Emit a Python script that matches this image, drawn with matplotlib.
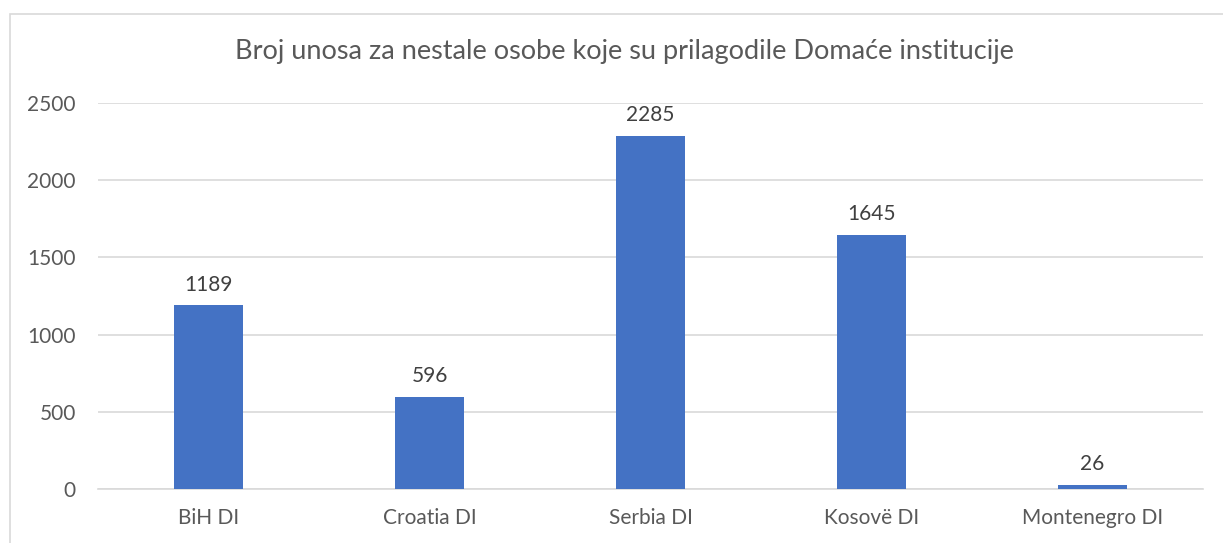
import matplotlib.pyplot as plt
from matplotlib.patches import Rectangle

# data
categories = ["BiH DI", "Croatia DI", "Serbia DI", "Kosovë DI", "Montenegro DI"]
values = [1189, 596, 2285, 1645, 26]
yticks = [0, 500, 1000, 1500, 2000, 2500]
title = "Broj unosa za nestale osobe koje su prilagodile Domaće institucije"

plt.rcParams['font.family'] = ['Lato', 'DejaVu Sans']

fig = plt.figure(figsize=(12.23, 5.43), dpi=100)
ax = fig.add_axes([98 / 1223, 1 - 489 / 543, (1203 - 98) / 1223, (489 - 103) / 543])

# chart border (left and top visible)
fig.patches.append(Rectangle((10 / 1223, -0.1), 1.2, 1 - 14 / 543 + 0.1,
                             transform=fig.transFigure, fill=False,
                             edgecolor="#d9d9d9", linewidth=1.2))

x = range(len(categories))
bars = ax.bar(x, values, width=0.31, color="#4472C4", zorder=3)

for xi, v in zip(x, values):
    ax.text(xi, v + 70, str(v), ha="center", va="bottom",
            fontsize=15, color="#404040")

ax.set_xlim(-0.5, len(categories) - 0.5)
ax.set_ylim(0, 2500)
ax.set_yticks(yticks)
ax.set_xticks(list(x))
ax.set_xticklabels(categories)
ax.tick_params(axis="both", length=0, labelsize=15, colors="#595959")
ax.tick_params(axis="y", pad=16)
ax.tick_params(axis="x", pad=14)
ax.grid(axis="y", color="#d9d9d9", linewidth=1.2, zorder=0)
for side in ["top", "right", "left"]:
    ax.spines[side].set_visible(False)
ax.spines["bottom"].set_color("#d9d9d9")
ax.spines["bottom"].set_linewidth(1.2)

fig.text(624 / 1223, 1 - 52 / 543, title, ha="center", va="center",
         fontsize=19.5, color="#595959")

fig.savefig("out.png", dpi=100)
